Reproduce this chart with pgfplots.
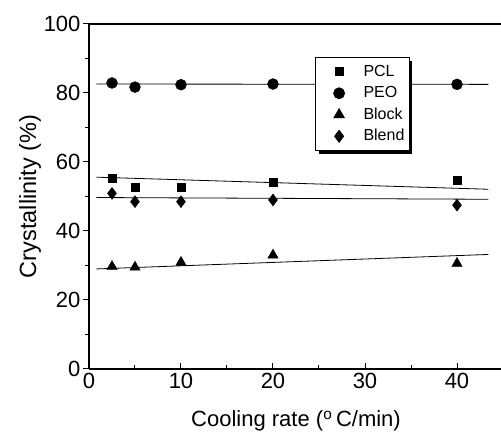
\documentclass[border=0pt]{standalone}
\usepackage{fontspec}
\setmainfont{Liberation Sans}
\usepackage{pgfplots}
\pgfplotsset{compat=1.18}
\usetikzlibrary{shadows}

\begin{document}
\begin{tikzpicture}
\begin{axis}[
    scale only axis,
    width=414pt, height=345pt,
    xmin=0, xmax=45, ymin=0, ymax=100,
    axis x line*=box, axis y line*=left,
    axis line style={line width=1.4pt},
    xtick={0,10,20,30,40}, ytick={0,20,40,60,80,100},
    minor xtick={5,15,25,35}, minor ytick={10,30,50,70,90},
    xtick align=inside, ytick align=outside,
    major tick length=6pt, minor tick length=4pt,
    tick style={line width=1pt, black},
    xtick pos=bottom,
    /pgf/number format/assume math mode=true,
    tick label style={font=\fontsize{22}{25}\selectfont},
    xticklabel style={yshift=-1pt},
    yticklabel style={xshift=1pt},
    xlabel={Cooling rate (\textsuperscript{o}\,C/min)},
    ylabel={Crystallinity (\%)},
    xlabel style={font=\fontsize{22}{25}\selectfont, yshift=-15pt},
    ylabel style={font=\fontsize{23.5}{26}\selectfont, yshift=-4pt},
    legend style={at={(axis cs:24.6,90.4)}, anchor=north west,
        draw=black, line width=0.8pt, fill=white,
        font=\fontsize{16}{19}\selectfont,
        row sep=5pt, inner xsep=4pt, inner ysep=6pt,
        nodes={inner sep=1pt, text height=11.5pt, text depth=3pt},
        /tikz/every odd column/.append style={column sep=17pt},
        drop shadow={shadow xshift=3pt, shadow yshift=-3pt, fill=black, opacity=1}},
    legend cell align=left,
]
% fitted lines
\addplot[black, line width=0.8pt, forget plot] coordinates {(0.8,82.6) (43.4,82.5)};
\addplot[black, line width=0.8pt, forget plot] coordinates {(0.8,55.6) (43.4,52.1)};
\addplot[black, line width=0.8pt, forget plot] coordinates {(0.8,49.7) (43.4,49.2)};
\addplot[black, line width=0.8pt, forget plot] coordinates {(0.8,29.0) (43.4,33.2)};
% data
\pgfplotsset{legend image code/.code={\path (-19pt,0pt) (6pt,0pt); \draw[#1] plot coordinates {(0pt,0pt)};}}
\addplot[only marks, mark=square*, mark size=4pt, black] coordinates {
    (2.5,55.3) (5,52.7) (10,52.7) (20,54.0) (40,54.6)};
\addlegendentry{PCL}
\addplot[only marks, mark=*, mark size=5.5pt, black] coordinates {
    (2.5,82.9) (5,81.7) (10,82.4) (20,82.6) (40,82.5)};
\addlegendentry{PEO}
\addplot[only marks, mark=triangle*, mark size=6pt, black] coordinates {
    (2.5,29.7) (5,29.5) (10,30.9) (20,33.0) (40,30.6)};
\addlegendentry{Block}
\addplot[only marks, mark=diamond*, mark size=6pt, black] coordinates {
    (2.5,50.9) (5,48.5) (10,48.5) (20,49.0) (40,47.5)};
\addlegendentry{Blend}
\end{axis}
\pgfresetboundingbox
\path[use as bounding box] (-89pt,-66pt) rectangle (412pt,369pt);
\end{tikzpicture}
\end{document}
